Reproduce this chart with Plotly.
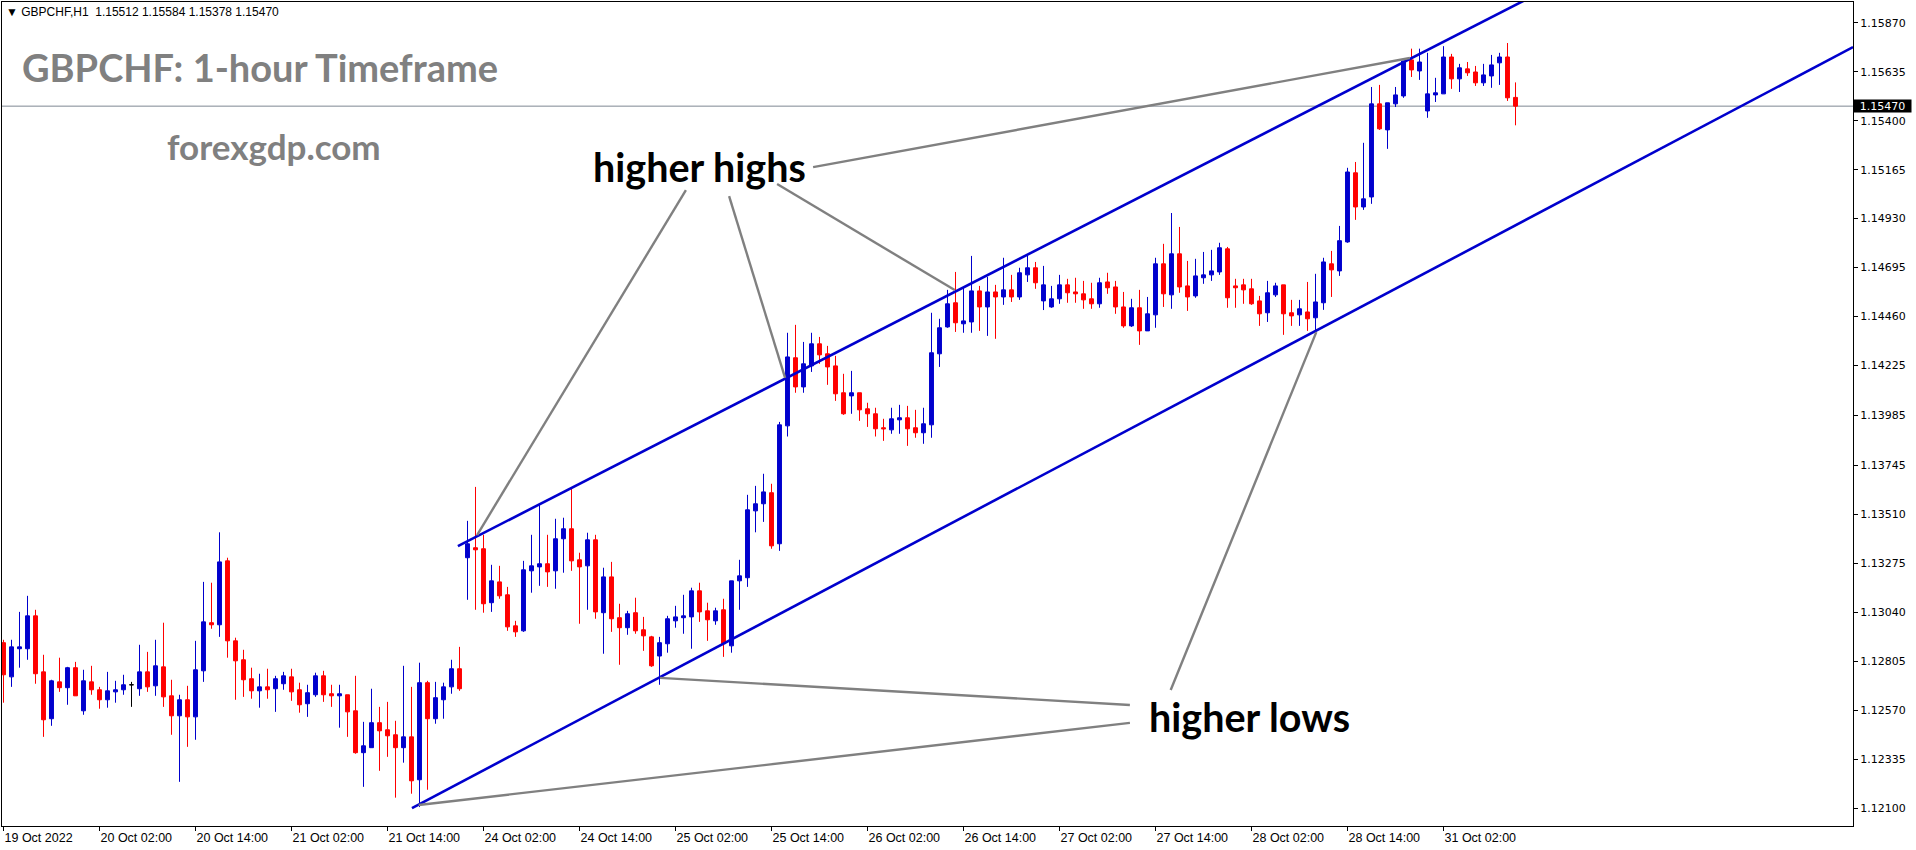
import plotly.graph_objects as go

# ---------------- data ----------------
x_tick_idx = [0, 12, 24, 36, 48, 60, 72, 84, 96, 108, 120, 132, 144, 156, 168, 180]
x_tick_text = ["19 Oct 2022", "20 Oct 02:00", "20 Oct 14:00", "21 Oct 02:00", "21 Oct 14:00",
               "24 Oct 02:00", "24 Oct 14:00", "25 Oct 02:00", "25 Oct 14:00", "26 Oct 02:00",
               "26 Oct 14:00", "27 Oct 02:00", "27 Oct 14:00", "28 Oct 02:00", "28 Oct 14:00",
               "31 Oct 02:00"]
y_tick_text = ["1.15870", "1.15635", "1.15400", "1.15165", "1.14930", "1.14695", "1.14460",
               "1.14225", "1.13985", "1.13745", "1.13510", "1.13275", "1.13040", "1.12805",
               "1.12570", "1.12335", "1.12100"]

opens = [
    1.12894, 1.12730, 1.12865, 1.12865, 1.13023, 1.12754, 1.12529, 1.12706, 1.12678, 1.12774,
    1.12567, 1.12706, 1.12668, 1.12620, 1.12658, 1.12668, 1.12692, 1.12673, 1.12754, 1.12687,
    1.12778, 1.12639, 1.12543, 1.12620, 1.12538, 1.12759, 1.12990, 1.12980, 1.13287, 1.12903,
    1.12812, 1.12721, 1.12663, 1.12682, 1.12673, 1.12697, 1.12730, 1.12668, 1.12601, 1.12644,
    1.12735, 1.12649, 1.12639, 1.12644, 1.12567, 1.12366, 1.12390, 1.12510, 1.12476, 1.12452,
    1.12390, 1.12442, 1.12236, 1.12702, 1.12529, 1.12620, 1.12682, 1.12769, 1.13302, 1.13350,
    1.13345, 1.13086, 1.13186, 1.13124, 1.12975, 1.12951, 1.13239, 1.13258, 1.13273, 1.13239,
    1.13393, 1.13441, 1.13292, 1.13263, 1.13388, 1.13038, 1.13210, 1.13014, 1.12966, 1.13038,
    1.12956, 1.12922, 1.12830, 1.12889, 1.12999, 1.13014, 1.13018, 1.13143, 1.13047, 1.12999,
    1.13052, 1.12879, 1.13191, 1.13206, 1.13527, 1.13561, 1.13614, 1.13369, 1.13935, 1.14262,
    1.14122, 1.14223, 1.14329, 1.14281, 1.14223, 1.14094, 1.14079, 1.14094, 1.14017, 1.13993,
    1.13926, 1.13916, 1.13964, 1.13974, 1.13926, 1.13902, 1.13940, 1.14281, 1.14410, 1.14526,
    1.14425, 1.14434, 1.14583, 1.14506, 1.14578, 1.14554, 1.14588, 1.14554, 1.14660, 1.14694,
    1.14535, 1.14506, 1.14545, 1.14612, 1.14578, 1.14569, 1.14545, 1.14521, 1.14626, 1.14602,
    1.14506, 1.14415, 1.14502, 1.14391, 1.14468, 1.14713, 1.14564, 1.14761, 1.14607, 1.14559,
    1.14646, 1.14660, 1.14674, 1.14785, 1.14607, 1.14612, 1.14593, 1.14535, 1.14478, 1.14564,
    1.14612, 1.14478, 1.14468, 1.14482, 1.14454, 1.14526, 1.14713, 1.14679, 1.14818, 1.15150,
    1.14986, 1.15034, 1.15481, 1.15356, 1.15481, 1.15519, 1.15692, 1.15639, 1.15447, 1.15524,
    1.15529, 1.15706, 1.15601, 1.15649, 1.15634, 1.15582, 1.15615, 1.15678, 1.15706, 1.15512]

highs = [
    1.12908, 1.12908, 1.13042, 1.13119, 1.13052, 1.12836, 1.12716, 1.12822, 1.12778, 1.12802,
    1.12764, 1.12783, 1.12682, 1.12754, 1.12711, 1.12740, 1.12706, 1.12884, 1.12850, 1.12908,
    1.12990, 1.12716, 1.12644, 1.12687, 1.12903, 1.13186, 1.13182, 1.13424, 1.13302, 1.12918,
    1.12860, 1.12774, 1.12745, 1.12769, 1.12735, 1.12754, 1.12769, 1.12702, 1.12692, 1.12750,
    1.12759, 1.12692, 1.12692, 1.12644, 1.12735, 1.12514, 1.12673, 1.12586, 1.12610, 1.12519,
    1.12783, 1.12682, 1.12798, 1.12711, 1.12706, 1.12702, 1.12812, 1.12874, 1.13479, 1.13642,
    1.13412, 1.13268, 1.13263, 1.13162, 1.12999, 1.13287, 1.13412, 1.13561, 1.13412, 1.13489,
    1.13494, 1.13633, 1.13326, 1.13422, 1.13412, 1.13254, 1.13282, 1.13081, 1.13047, 1.13110,
    1.13018, 1.12927, 1.12922, 1.13023, 1.13071, 1.13124, 1.13158, 1.13182, 1.13086, 1.13062,
    1.13105, 1.13191, 1.13292, 1.13604, 1.13647, 1.13705, 1.13657, 1.13954, 1.14382, 1.14420,
    1.14338, 1.14382, 1.14362, 1.14319, 1.14271, 1.14185, 1.14199, 1.14094, 1.14046, 1.14022,
    1.13969, 1.14022, 1.14036, 1.14031, 1.14012, 1.14022, 1.14478, 1.14449, 1.14588, 1.14674,
    1.14602, 1.14751, 1.14607, 1.14650, 1.14612, 1.14742, 1.14660, 1.14694, 1.14751, 1.14722,
    1.14703, 1.14607, 1.14660, 1.14641, 1.14646, 1.14631, 1.14622, 1.14646, 1.14670, 1.14631,
    1.14578, 1.14545, 1.14588, 1.14554, 1.14742, 1.14809, 1.14957, 1.14890, 1.14727, 1.14737,
    1.14770, 1.14780, 1.14814, 1.14794, 1.14641, 1.14641, 1.14641, 1.14559, 1.14631, 1.14622,
    1.14612, 1.14540, 1.14540, 1.14626, 1.14665, 1.14742, 1.14775, 1.14895, 1.15174, 1.15202,
    1.15294, 1.15562, 1.15572, 1.15486, 1.15562, 1.15687, 1.15746, 1.15746, 1.15726, 1.15606,
    1.15758, 1.15721, 1.15673, 1.15682, 1.15663, 1.15673, 1.15716, 1.15726, 1.15773, 1.15584]

lows = [
    1.12606, 1.12682, 1.12774, 1.12812, 1.12697, 1.12442, 1.12495, 1.12658, 1.12596, 1.12639,
    1.12548, 1.12644, 1.12577, 1.12582, 1.12606, 1.12644, 1.12586, 1.12639, 1.12658, 1.12639,
    1.12586, 1.12452, 1.12226, 1.12394, 1.12428, 1.12706, 1.12961, 1.12922, 1.12822, 1.12620,
    1.12634, 1.12625, 1.12582, 1.12625, 1.12562, 1.12668, 1.12615, 1.12558, 1.12538, 1.12634,
    1.12610, 1.12586, 1.12486, 1.12442, 1.12361, 1.12202, 1.12390, 1.12279, 1.12346, 1.12150,
    1.12318, 1.12169, 1.12105, 1.12188, 1.12505, 1.12529, 1.12649, 1.12663, 1.13100, 1.13052,
    1.13038, 1.13042, 1.13105, 1.12951, 1.12922, 1.12946, 1.13134, 1.13167, 1.13162, 1.13153,
    1.13230, 1.13239, 1.12985, 1.13052, 1.13009, 1.12841, 1.12946, 1.12788, 1.12932, 1.12937,
    1.12855, 1.12778, 1.12692, 1.12846, 1.12966, 1.12937, 1.12865, 1.12994, 1.12903, 1.12980,
    1.12826, 1.12846, 1.13052, 1.13162, 1.13424, 1.13474, 1.13345, 1.13335, 1.13884, 1.14094,
    1.14094, 1.14194, 1.14233, 1.14132, 1.14055, 1.13988, 1.13993, 1.13959, 1.13930, 1.13884,
    1.13863, 1.13897, 1.13897, 1.13839, 1.13878, 1.13849, 1.13878, 1.14218, 1.14406, 1.14386,
    1.14382, 1.14382, 1.14391, 1.14367, 1.14353, 1.14516, 1.14530, 1.14540, 1.14626, 1.14593,
    1.14491, 1.14502, 1.14521, 1.14526, 1.14526, 1.14497, 1.14497, 1.14502, 1.14569, 1.14473,
    1.14406, 1.14410, 1.14324, 1.14391, 1.14406, 1.14506, 1.14497, 1.14574, 1.14487, 1.14550,
    1.14617, 1.14631, 1.14660, 1.14502, 1.14502, 1.14521, 1.14516, 1.14415, 1.14434, 1.14554,
    1.14372, 1.14415, 1.14415, 1.14391, 1.14386, 1.14492, 1.14554, 1.14655, 1.14814, 1.14924,
    1.14972, 1.15001, 1.15356, 1.15265, 1.15466, 1.15510, 1.15610, 1.15596, 1.15414, 1.15490,
    1.15529, 1.15553, 1.15538, 1.15615, 1.15567, 1.15567, 1.15558, 1.15572, 1.15495, 1.15378]

closes = [
    1.12740, 1.12874, 1.12874, 1.13023, 1.12745, 1.12524, 1.12711, 1.12678, 1.12774, 1.12639,
    1.12711, 1.12668, 1.12620, 1.12663, 1.12668, 1.12692, 1.12692, 1.12754, 1.12682, 1.12783,
    1.12634, 1.12543, 1.12620, 1.12538, 1.12764, 1.12994, 1.12980, 1.13282, 1.12903, 1.12807,
    1.12716, 1.12663, 1.12682, 1.12668, 1.12721, 1.12735, 1.12658, 1.12596, 1.12654, 1.12735,
    1.12644, 1.12639, 1.12649, 1.12562, 1.12366, 1.12399, 1.12510, 1.12471, 1.12447, 1.12390,
    1.12442, 1.12231, 1.12702, 1.12529, 1.12630, 1.12682, 1.12769, 1.12673, 1.13369, 1.13340,
    1.13081, 1.13191, 1.13119, 1.12970, 1.12946, 1.13244, 1.13263, 1.13273, 1.13234, 1.13393,
    1.13441, 1.13287, 1.13258, 1.13388, 1.13042, 1.13210, 1.13009, 1.12966, 1.13033, 1.12951,
    1.12927, 1.12783, 1.12894, 1.13009, 1.13018, 1.13023, 1.13143, 1.13042, 1.13004, 1.13047,
    1.12889, 1.13191, 1.13215, 1.13532, 1.13561, 1.13618, 1.13359, 1.13940, 1.14266, 1.14122,
    1.14233, 1.14329, 1.14276, 1.14218, 1.14089, 1.13993, 1.14094, 1.14012, 1.13993, 1.13921,
    1.13921, 1.13969, 1.13974, 1.13921, 1.13902, 1.13945, 1.14286, 1.14406, 1.14521, 1.14430,
    1.14439, 1.14583, 1.14506, 1.14578, 1.14554, 1.14588, 1.14554, 1.14670, 1.14694, 1.14622,
    1.14612, 1.14545, 1.14612, 1.14574, 1.14569, 1.14540, 1.14521, 1.14622, 1.14598, 1.14506,
    1.14415, 1.14502, 1.14391, 1.14473, 1.14713, 1.14569, 1.14761, 1.14602, 1.14554, 1.14655,
    1.14660, 1.14679, 1.14790, 1.14550, 1.14598, 1.14588, 1.14521, 1.14473, 1.14574, 1.14607,
    1.14473, 1.14463, 1.14497, 1.14449, 1.14530, 1.14722, 1.14684, 1.14824, 1.15154, 1.14986,
    1.15025, 1.15481, 1.15361, 1.15486, 1.15524, 1.15687, 1.15644, 1.15682, 1.15529, 1.15534,
    1.15706, 1.15601, 1.15654, 1.15630, 1.15582, 1.15620, 1.15668, 1.15706, 1.15510, 1.15470]

# channel trend lines: two anchor points (bar index, price), drawn as rays to the right
upper_x = [56.8, 180.0]
upper_y = [1.13358, 1.15779]
lower_x = [51.06, 199.56]
lower_y = [1.12100, 1.15112]

# annotation pointer lines (from label to swing point)
hh_from_x = [101.2, 85.3, 90.7, 96.7]
hh_from_y = [1.15177, 1.15067, 1.15038, 1.15096]
hh_to_x = [175.8, 59.2, 97.7, 118.9]
hh_to_y = [1.15701, 1.13411, 1.14165, 1.14587]
hl_from_x = [140.8, 140.8, 145.9]
hl_from_y = [1.12595, 1.12509, 1.12667]
hl_to_x = [82.06, 51.9, 164.1]
hl_to_y = [1.12725, 1.12115, 1.14385]

label_hh = (73.4, 1.15178)
label_hl = (142.9, 1.12538)

doji_idx = [i for i in range(len(opens)) if opens[i] == closes[i]]

# ---------------- figure ----------------
X_MIN, X_MAX = -0.1875, 231.1875
Y_MIN, Y_MAX = 1.12014, 1.15970
BLUE = "#0000CD"
RED = "#FF0000"
GRAY = "#808080"

idx = list(range(len(opens)))
norm = [i for i in idx if i not in doji_idx]

fig = go.Figure()
fig.add_trace(go.Candlestick(
    x=norm, open=[opens[i] for i in norm], high=[highs[i] for i in norm],
    low=[lows[i] for i in norm], close=[closes[i] for i in norm],
    increasing=dict(line=dict(color=BLUE, width=1), fillcolor=BLUE),
    decreasing=dict(line=dict(color=RED, width=1), fillcolor=RED),
    whiskerwidth=0, showlegend=False, hoverinfo="skip"))
fig.add_trace(go.Candlestick(
    x=doji_idx, open=[opens[i] for i in doji_idx], high=[highs[i] for i in doji_idx],
    low=[lows[i] for i in doji_idx], close=[closes[i] for i in doji_idx],
    increasing=dict(line=dict(color="black", width=1), fillcolor="black"),
    decreasing=dict(line=dict(color="black", width=1), fillcolor="black"),
    whiskerwidth=0, showlegend=False, hoverinfo="skip"))


def ray(xs, ys):
    slope = (ys[1] - ys[0]) / (xs[1] - xs[0])
    return [xs[0], X_MAX], [ys[0], ys[0] + slope * (X_MAX - xs[0])]


for xs, ys in [(upper_x, upper_y), (lower_x, lower_y)]:
    rx, ry = ray(xs, ys)
    fig.add_trace(go.Scatter(x=rx, y=ry, mode="lines", line=dict(color=BLUE, width=2.6),
                             showlegend=False, hoverinfo="skip"))

for fx, fy, tx, ty in list(zip(hh_from_x, hh_from_y, hh_to_x, hh_to_y)) + \
        list(zip(hl_from_x, hl_from_y, hl_to_x, hl_to_y)):
    fig.add_trace(go.Scatter(x=[fx, tx], y=[fy, ty], mode="lines",
                             line=dict(color=GRAY, width=2.4),
                             showlegend=False, hoverinfo="skip"))

# current price line
last_close = closes[-1]
fig.add_shape(type="line", xref="paper", x0=0, x1=1, yref="y", y0=last_close, y1=last_close,
              line=dict(color="#7f8893", width=1), layer="below")

ann = []
W, H, ML, MT = 1851, 824, 2, 2


def px(xp):
    return (xp - ML) / W


def py(yp):
    return 1 - (yp - MT) / H


ann.append(dict(xref="paper", yref="paper", x=px(4), y=py(12), xanchor="left", yanchor="middle",
                text="\u25BC\u00a0GBPCHF,H1\u00a0\u00a0" + "\u00a0".join(
                    f"{v:.5f}" for v in [opens[-1], highs[-1], lows[-1], closes[-1]]),
                showarrow=False, font=dict(family="Liberation Sans", size=12, color="black")))
ann.append(dict(xref="paper", yref="paper", x=px(20), y=py(67), xanchor="left", yanchor="middle",
                text="GBPCHF: 1-hour Timeframe", showarrow=False,
                font=dict(family="Lato", size=38, color=GRAY, weight="bold")))
ann.append(dict(xref="paper", yref="paper", x=px(165), y=py(146), xanchor="left", yanchor="middle",
                text="forexgdp.com", showarrow=False,
                font=dict(family="Lato", size=35, color=GRAY, weight="bold")))
ann.append(dict(xref="x", yref="y", x=label_hh[0], y=label_hh[1], xanchor="left", yanchor="middle",
                text="higher highs", showarrow=False,
                font=dict(family="Lato", size=39.5, color="black", weight="bold")))
ann.append(dict(xref="x", yref="y", x=label_hl[0], y=label_hl[1], xanchor="left", yanchor="middle",
                text="higher lows", showarrow=False,
                font=dict(family="Lato", size=39.5, color="black", weight="bold")))
# current price tag on the axis
ann.append(dict(xref="paper", yref="y", x=1, y=last_close, xanchor="left", yanchor="middle",
                text=f"{last_close:.5f}", showarrow=False, bgcolor="black", width=57, height=12,
                borderpad=0, align="center",
                font=dict(family="DejaVu Sans", size=11, color="white")))

fig.update_layout(
    width=1916, height=850,
    margin=dict(l=ML, r=63, t=MT, b=24, pad=0),
    paper_bgcolor="white", plot_bgcolor="white",
    showlegend=False, annotations=ann,
    xaxis=dict(range=[X_MIN, X_MAX], rangeslider=dict(visible=False), showgrid=False,
               zeroline=False, showline=True, mirror=True, linecolor="black", linewidth=1,
               tickmode="array", tickvals=x_tick_idx, ticktext=x_tick_text,
               ticks="outside", ticklen=4, tickcolor="black", ticklabelposition="outside right",
               tickfont=dict(family="Liberation Sans", size=12.5, color="black")),
    yaxis=dict(range=[Y_MIN, Y_MAX], side="right", showgrid=False, zeroline=False,
               showline=True, mirror=True, linecolor="black", linewidth=1,
               tickmode="array", tickvals=[float(t) for t in y_tick_text], ticktext=y_tick_text,
               ticks="outside", ticklen=4, tickcolor="black",
               tickfont=dict(family="DejaVu Sans", size=11, color="black")),
)

fig.write_html("out.html", config={"displayModeBar": False, "staticPlot": True},
               post_script="document.body.style.margin='0';document.body.style.overflow='hidden';")
